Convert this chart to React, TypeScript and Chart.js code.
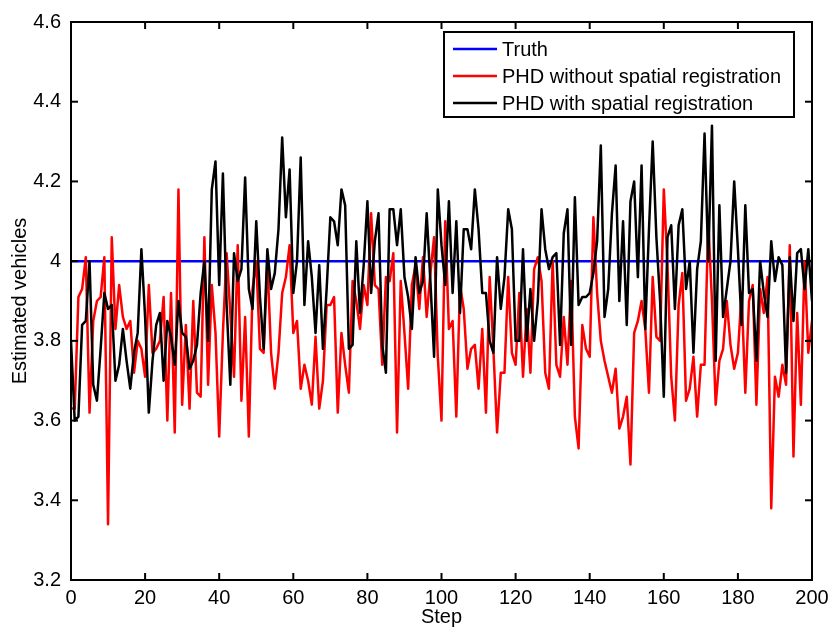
import React, { useEffect, useRef } from 'react';
import { Chart, registerables } from 'chart.js';

Chart.register(...registerables);

const FONT = '"Liberation Sans", Arial, Helvetica, sans-serif';

const xTickStep = 20;
const yTickStep = 0.2;
const xMin = 0;
const xMax = 200;
const yMin = 3.2;
const yMax = 4.6;

const seriesLabels = ['Truth', 'PHD without spatial registration', 'PHD with spatial registration'];
const seriesColors = ['#0000ff', '#ff0000', '#000000'];

const truthSteps = [0, 200];
const truthValues = [4, 4];

const withoutRegistration = [
  3.63, 3.63, 3.91, 3.93, 4.01, 3.62, 3.85, 3.90, 3.91, 4.01,
  3.34, 4.06, 3.83, 3.94, 3.86, 3.83, 3.85, 3.72, 3.80, 3.78,
  3.71, 3.94, 3.77, 3.78, 3.80, 3.91, 3.60, 3.92, 3.57, 4.18,
  3.64, 3.84, 3.63, 3.90, 3.67, 3.66, 4.06, 3.69, 3.94, 3.82,
  3.56, 3.82, 4.02, 3.87, 3.71, 4.04, 3.65, 3.86, 3.56, 3.93,
  4.00, 3.78, 3.77, 4.00, 3.77, 3.68, 3.77, 3.92, 3.96, 4.04,
  3.82, 3.85, 3.68, 3.74, 3.70, 3.64, 3.81, 3.63, 3.70, 3.89,
  3.89, 3.91, 3.62, 3.82, 3.74, 3.67, 3.95, 3.90, 3.83, 3.94,
  3.89, 4.12, 3.94, 3.93, 3.74, 3.96, 3.95, 4.02, 3.57, 3.95,
  3.82, 3.68, 3.94, 3.99, 3.88, 4.01, 3.86, 3.97, 4.06, 3.76,
  3.60, 4.10, 3.83, 3.85, 3.61, 3.94, 3.88, 3.73, 3.78, 3.79,
  3.68, 3.83, 3.62, 3.96, 3.78, 3.57, 3.72, 3.72, 3.96, 3.77,
  3.74, 3.92, 3.71, 3.88, 3.72, 3.98, 4.01, 3.95, 3.72, 3.68,
  4.00, 3.74, 3.71, 3.86, 3.74, 3.95, 3.61, 3.53, 3.84, 3.78,
  3.76, 4.11, 3.92, 3.80, 3.75, 3.71, 3.67, 3.73, 3.58, 3.61,
  3.66, 3.49, 3.82, 3.85, 3.90, 3.83, 3.67, 3.96, 3.81, 3.80,
  4.18, 3.99, 3.71, 3.60, 3.89, 3.97, 3.65, 3.68, 3.76, 3.61,
  3.74, 3.74, 4.10, 3.90, 3.64, 3.75, 3.78, 3.90, 3.79, 3.73,
  3.77, 3.92, 3.67, 3.90, 3.94, 3.64, 3.93, 3.87, 3.96, 3.38,
  3.71, 3.66, 3.74, 3.69, 4.04, 3.51, 3.87, 3.64, 4.00, 3.77,
  3.85,
];

const withRegistration = [
  3.80, 3.60, 3.61, 3.84, 3.85, 4.00, 3.69, 3.65, 3.78, 3.92,
  3.88, 3.89, 3.70, 3.74, 3.83, 3.75, 3.68, 3.77, 3.82, 4.03,
  3.86, 3.62, 3.75, 3.84, 3.87, 3.70, 3.85, 3.81, 3.74, 3.90,
  3.82, 3.81, 3.73, 3.75, 3.79, 3.92, 4.00, 3.80, 4.18, 4.25,
  3.94, 4.22, 3.89, 3.69, 4.02, 3.95, 3.98, 4.21, 3.93, 3.88,
  4.10, 3.91, 3.78, 4.03, 3.93, 3.97, 4.08, 4.31, 4.11, 4.23,
  3.92, 4.00, 4.26, 3.89, 4.05, 3.96, 3.82, 3.99, 3.78, 3.93,
  4.11, 4.10, 4.04, 4.18, 4.14, 3.78, 3.79, 4.05, 3.87, 3.99,
  4.15, 3.92, 4.05, 4.12, 3.79, 3.72, 4.13, 4.13, 4.04, 4.13,
  3.96, 3.91, 3.83, 4.01, 3.92, 3.95, 4.12, 3.95, 3.76, 4.18,
  4.04, 3.94, 4.15, 3.92, 4.10, 3.87, 4.08, 4.08, 4.03, 4.18,
  4.08, 3.92, 3.92, 3.80, 3.77, 4.01, 3.88, 3.96, 4.13, 4.08,
  3.80, 3.80, 4.03, 3.80, 3.93, 3.80, 3.90, 4.13, 4.03, 3.98,
  4.01, 4.02, 3.79, 4.07, 4.13, 3.79, 4.16, 3.89, 3.91, 3.91,
  3.92, 3.97, 4.05, 4.29, 3.86, 3.93, 4.12, 4.24, 3.90, 4.10,
  3.84, 4.15, 4.20, 3.96, 4.24, 3.83, 4.08, 4.30, 4.06, 3.90,
  3.66, 4.06, 4.09, 3.88, 4.09, 4.13, 3.93, 4.00, 3.77, 3.98,
  4.05, 4.32, 4.00, 4.34, 3.75, 4.14, 3.86, 3.93, 4.00, 4.20,
  4.03, 3.84, 4.14, 3.92, 3.93, 3.75, 4.00, 3.92, 3.86, 4.05,
  3.95, 4.01, 3.99, 3.72, 4.01, 3.85, 4.02, 4.03, 3.93, 4.03,
  3.90,
];

const xTitle = 'Step';
const yTitle = 'Estimated vehicles';

const toPoints = (values: number[]) => values.map((v, i) => ({ x: i, y: v }));

const matlabPlugin = {
  id: 'matlabFrame',
  afterDraw(chart: any) {
    const { ctx, chartArea } = chart;
    const { left, right, top, bottom } = chartArea;
    const xs = chart.scales.x;
    const ys = chart.scales.y;
    ctx.save();
    ctx.strokeStyle = '#000';
    ctx.lineWidth = 2;
    const tl = 7;
    const seg = (x1: number, y1: number, x2: number, y2: number) => {
      ctx.beginPath();
      ctx.moveTo(x1, y1);
      ctx.lineTo(x2, y2);
      ctx.stroke();
    };
    xs.ticks.forEach((t: any) => {
      const px = xs.getPixelForValue(t.value);
      seg(px, bottom, px, bottom - tl);
      seg(px, top, px, top + tl);
    });
    ys.ticks.forEach((t: any) => {
      const py = ys.getPixelForValue(t.value);
      seg(left, py, left + tl, py);
      seg(right, py, right - tl, py);
    });
    ctx.strokeRect(left, top, right - left, bottom - top);

    // legend
    const lx1 = 444, ly1 = 32, lx2 = 794, ly2 = 117;
    ctx.fillStyle = '#fff';
    ctx.fillRect(lx1, ly1, lx2 - lx1, ly2 - ly1);
    ctx.lineWidth = 2;
    ctx.strokeStyle = '#000';
    ctx.strokeRect(lx1, ly1, lx2 - lx1, ly2 - ly1);
    const rows = [49, 76, 103];
    ctx.font = `20px ${FONT}`;
    ctx.textBaseline = 'middle';
    ctx.textAlign = 'left';
    seriesLabels.forEach((lab, i) => {
      ctx.strokeStyle = seriesColors[i];
      ctx.lineWidth = 2.5;
      seg(453, rows[i], 497, rows[i]);
      ctx.fillStyle = '#000';
      ctx.fillText(lab, 502, rows[i] + 1);
    });

    // axis titles
    ctx.fillStyle = '#000';
    ctx.textAlign = 'center';
    ctx.textBaseline = 'middle';
    ctx.fillText(xTitle, (left + right) / 2, 617);
    ctx.translate(20, (top + bottom) / 2);
    ctx.rotate(-Math.PI / 2);
    ctx.fillText(yTitle, 0, 0);
    ctx.restore();
  },
};

export default function App() {
  const ref = useRef<HTMLCanvasElement | null>(null);
  useEffect(() => {
    document.body.style.margin = '0';
    if (!ref.current) return;
    const chart = new Chart(ref.current, {
      type: 'line',
      data: {
        datasets: [
          {
            label: seriesLabels[0],
            data: truthSteps.map((s, i) => ({ x: s, y: truthValues[i] })),
            borderColor: seriesColors[0],
            borderWidth: 2.5,
            pointRadius: 0,
            order: 3,
          },
          {
            label: seriesLabels[1],
            data: toPoints(withoutRegistration),
            borderColor: seriesColors[1],
            borderWidth: 2.5,
            pointRadius: 0,
            order: 2,
          },
          {
            label: seriesLabels[2],
            data: toPoints(withRegistration),
            borderColor: seriesColors[2],
            borderWidth: 2.5,
            pointRadius: 0,
            order: 1,
          },
        ],
      },
      options: {
        animation: false,
        responsive: false,
        devicePixelRatio: 1,
        layout: { padding: { top: 22, right: 16, left: 0, bottom: 0 } },
        plugins: { legend: { display: false }, tooltip: { enabled: false } },
        elements: { line: { tension: 0, borderJoinStyle: 'round', borderCapStyle: 'round' } },
        scales: {
          x: {
            type: 'linear',
            min: xMin,
            max: xMax,
            grid: { display: false },
            border: { display: false },
            ticks: {
              stepSize: xTickStep,
              padding: -2,
              color: '#000',
              maxRotation: 0,
              autoSkip: false,
              font: { family: FONT, size: 20 },
            },
            afterFit: (s: any) => { s.height = 48; },
          },
          y: {
            type: 'linear',
            min: yMin,
            max: yMax,
            grid: { display: false },
            border: { display: false },
            ticks: {
              stepSize: yTickStep,
              padding: 2,
              color: '#000',
              font: { family: FONT, size: 20 },
              callback: (v: any) => String(parseFloat(Number(v).toFixed(1))),
            },
            afterFit: (s: any) => { s.width = 71; },
          },
        },
      } as any,
      plugins: [matlabPlugin],
    });
    return () => chart.destroy();
  }, []);
  return (
    <div style={{ position: 'absolute', left: 0, top: 0, width: 828, height: 628 }}>
      <canvas ref={ref} width={828} height={628} style={{ display: 'block' }} />
    </div>
  );
}
